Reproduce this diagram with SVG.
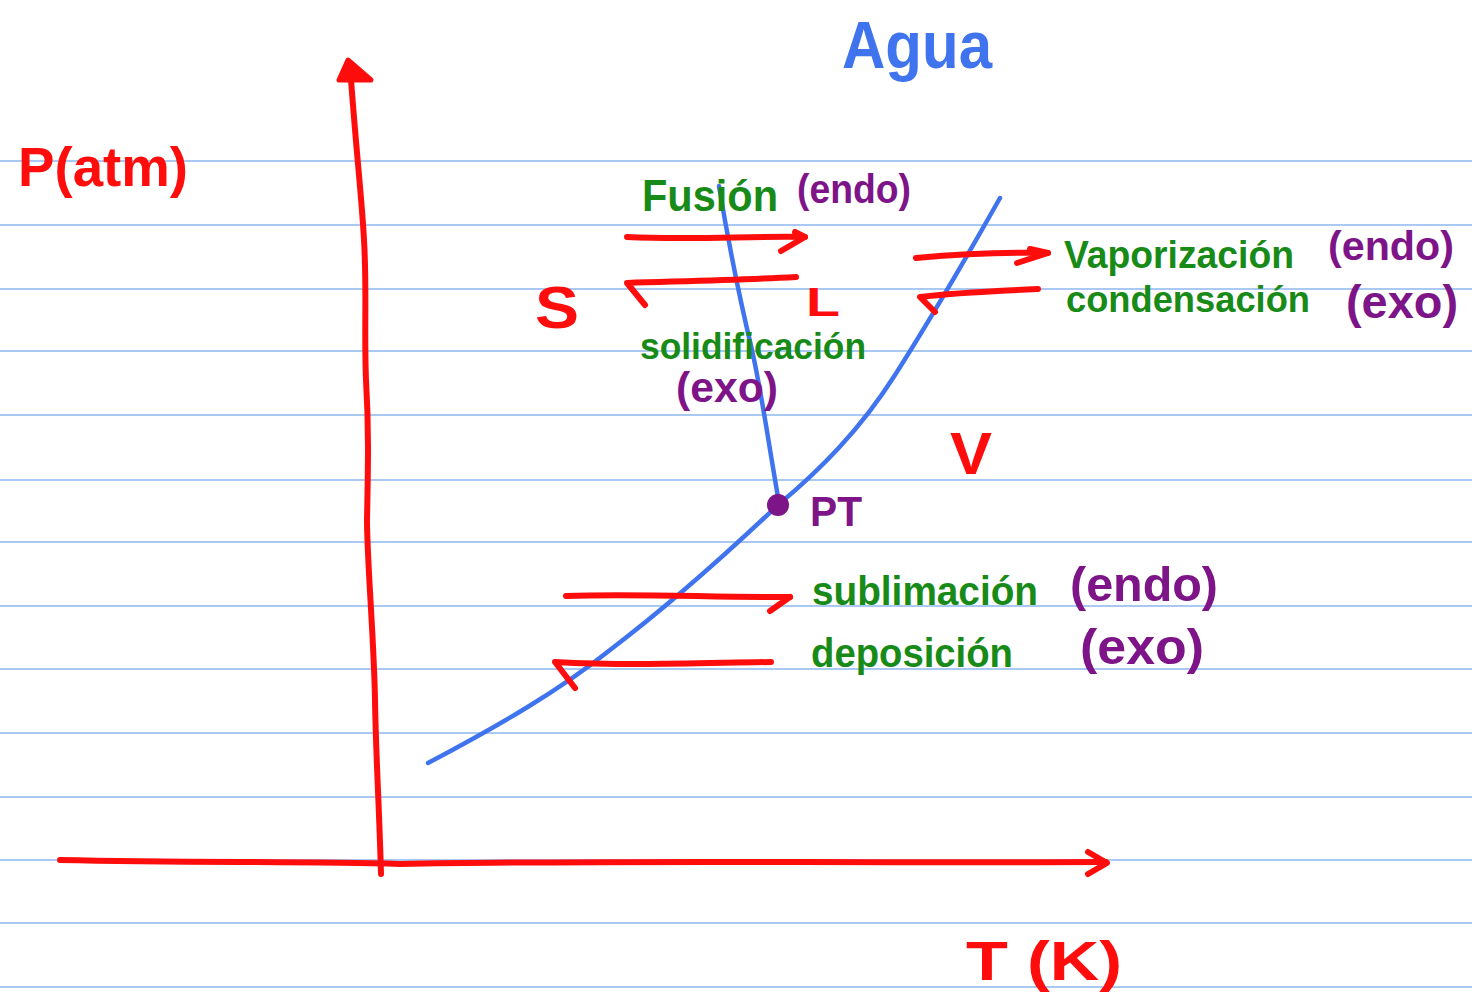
<svg xmlns="http://www.w3.org/2000/svg" width="1472" height="997" viewBox="0 0 1472 997">
<style>
.rule{stroke:#a9c9f2;stroke-width:2;fill:none}
.red{stroke:#ff0d0d;stroke-width:6;fill:none;stroke-linecap:round;stroke-linejoin:round}
.redfill{stroke:#ff0d0d;stroke-width:5;fill:#ff0d0d;stroke-linejoin:round}
.blue{stroke:#3f74ee;stroke-width:4.5;fill:none;stroke-linecap:round;stroke-linejoin:round}
.t{font-family:"Liberation Sans",Arial,sans-serif;font-weight:bold}
.g{fill:#188a18}
.p{fill:#7d1487}
.r{fill:#ff0d0d}
.b{fill:#3f74ee}
</style>
<rect width="1472" height="997" fill="#ffffff"/>
<g id="paper">
<line class="rule" x1="0" y1="161" x2="1472" y2="161"/>
<line class="rule" x1="0" y1="225" x2="1472" y2="225"/>
<line class="rule" x1="0" y1="289" x2="1472" y2="289"/>
<line class="rule" x1="0" y1="351" x2="1472" y2="351"/>
<line class="rule" x1="0" y1="415" x2="1472" y2="415"/>
<line class="rule" x1="0" y1="480" x2="1472" y2="480"/>
<line class="rule" x1="0" y1="542" x2="1472" y2="542"/>
<line class="rule" x1="0" y1="606" x2="1472" y2="606"/>
<line class="rule" x1="0" y1="669" x2="1472" y2="669"/>
<line class="rule" x1="0" y1="733" x2="1472" y2="733"/>
<line class="rule" x1="0" y1="797" x2="1472" y2="797"/>
<line class="rule" x1="0" y1="860" x2="1472" y2="860"/>
<line class="rule" x1="0" y1="923" x2="1472" y2="923"/>
<line class="rule" x1="0" y1="987" x2="1472" y2="987"/>
</g>
<g id="axes">
<path class="red" d="M381 874 C379 800 376 760 375 700 C374 640 367 560 367 520 C368 470 369 430 366 380 C364 330 367 290 364 240 C362 200 356 150 350 66"/>
<path class="redfill" d="M339 80 L348 60 L371 80 Z"/>
<path class="red" d="M60 860 C200 863 300 861 400 864 C600 860 800 863 1106 862"/>
<path class="red" d="M1088 852 L1107 863 L1088 874"/>
</g>
<g id="curves">
<path class="blue" d="M428 763 C500 725 560 690 610 650 C660 612 720 560 778 505 C820 470 860 430 895 375 C930 320 965 260 1000 198"/>
<path class="blue" d="M719 186 C728 240 740 300 752 350 C762 395 768 440 778 497"/>
</g>
<g id="connectors">
<path class="red" d="M627 237 C690 240 750 236 805 237"/>
<path class="red" d="M781 251 L805 237 L795 232"/>
<path class="red" d="M796 277 C740 280 690 281 627 283 L645 305"/>
<path class="red" d="M916 258 C960 254 1000 252 1048 253"/>
<path class="red" d="M1017 263 L1048 253 L1030 249"/>
<path class="red" d="M1038 289 C990 291 950 293 920 297 L935 312"/>
<path class="red" d="M566 596 C640 593 720 598 790 597"/>
<path class="red" d="M770 611 L790 597"/>
<path class="red" d="M771 662 C700 663 630 666 555 662 L575 688"/>
</g>
<g id="triple-point">
<circle cx="778" cy="505" r="11" fill="#7d1487"/>
<text class="t p" x="810" y="526" font-size="42" textLength="52" lengthAdjust="spacingAndGlyphs">PT</text>
</g>
<g id="labels">
<text class="t r" x="18" y="186" font-size="56" textLength="170" lengthAdjust="spacingAndGlyphs">P(atm)</text>
<text class="t b" x="842" y="68" font-size="66" font-weight="normal" textLength="150" lengthAdjust="spacingAndGlyphs">Agua</text>
<text class="t r" x="966" y="980" font-size="56" font-weight="normal" textLength="156" lengthAdjust="spacingAndGlyphs">T (K)</text>
<text class="t r" x="535" y="328" font-size="60" font-weight="normal" textLength="44" lengthAdjust="spacingAndGlyphs">S</text>
<text class="t r" x="806" y="316" font-size="40" font-weight="normal" textLength="34" lengthAdjust="spacingAndGlyphs">L</text>
<text class="t r" x="950" y="474" font-size="60" font-weight="normal" textLength="42" lengthAdjust="spacingAndGlyphs">V</text>
</g>
<g id="fusion">
<text class="t g" x="642" y="211" font-size="44" textLength="136" lengthAdjust="spacingAndGlyphs">Fusión</text>
<text class="t p" x="797" y="203" font-size="40" textLength="114" lengthAdjust="spacingAndGlyphs">(endo)</text>
</g>
<g id="solidificacion">
<text class="t g" x="640" y="359" font-size="36" textLength="226" lengthAdjust="spacingAndGlyphs">solidificación</text>
<text class="t p" x="676" y="402" font-size="42" textLength="102" lengthAdjust="spacingAndGlyphs">(exo)</text>
</g>
<g id="vaporizacion">
<text class="t g" x="1064" y="268" font-size="38" textLength="230" lengthAdjust="spacingAndGlyphs">Vaporización</text>
<text class="t p" x="1328" y="260" font-size="41" textLength="126" lengthAdjust="spacingAndGlyphs">(endo)</text>
</g>
<g id="condensacion">
<text class="t g" x="1066" y="312" font-size="36" textLength="244" lengthAdjust="spacingAndGlyphs">condensación</text>
<text class="t p" x="1346" y="318" font-size="46" textLength="112" lengthAdjust="spacingAndGlyphs">(exo)</text>
</g>
<g id="sublimacion">
<text class="t g" x="812" y="605" font-size="40" textLength="226" lengthAdjust="spacingAndGlyphs">sublimación</text>
<text class="t p" x="1070" y="601" font-size="48" textLength="148" lengthAdjust="spacingAndGlyphs">(endo)</text>
</g>
<g id="deposicion">
<text class="t g" x="811" y="667" font-size="40" textLength="202" lengthAdjust="spacingAndGlyphs">deposición</text>
<text class="t p" x="1080" y="664" font-size="50" textLength="124" lengthAdjust="spacingAndGlyphs">(exo)</text>
</g>
</svg>
